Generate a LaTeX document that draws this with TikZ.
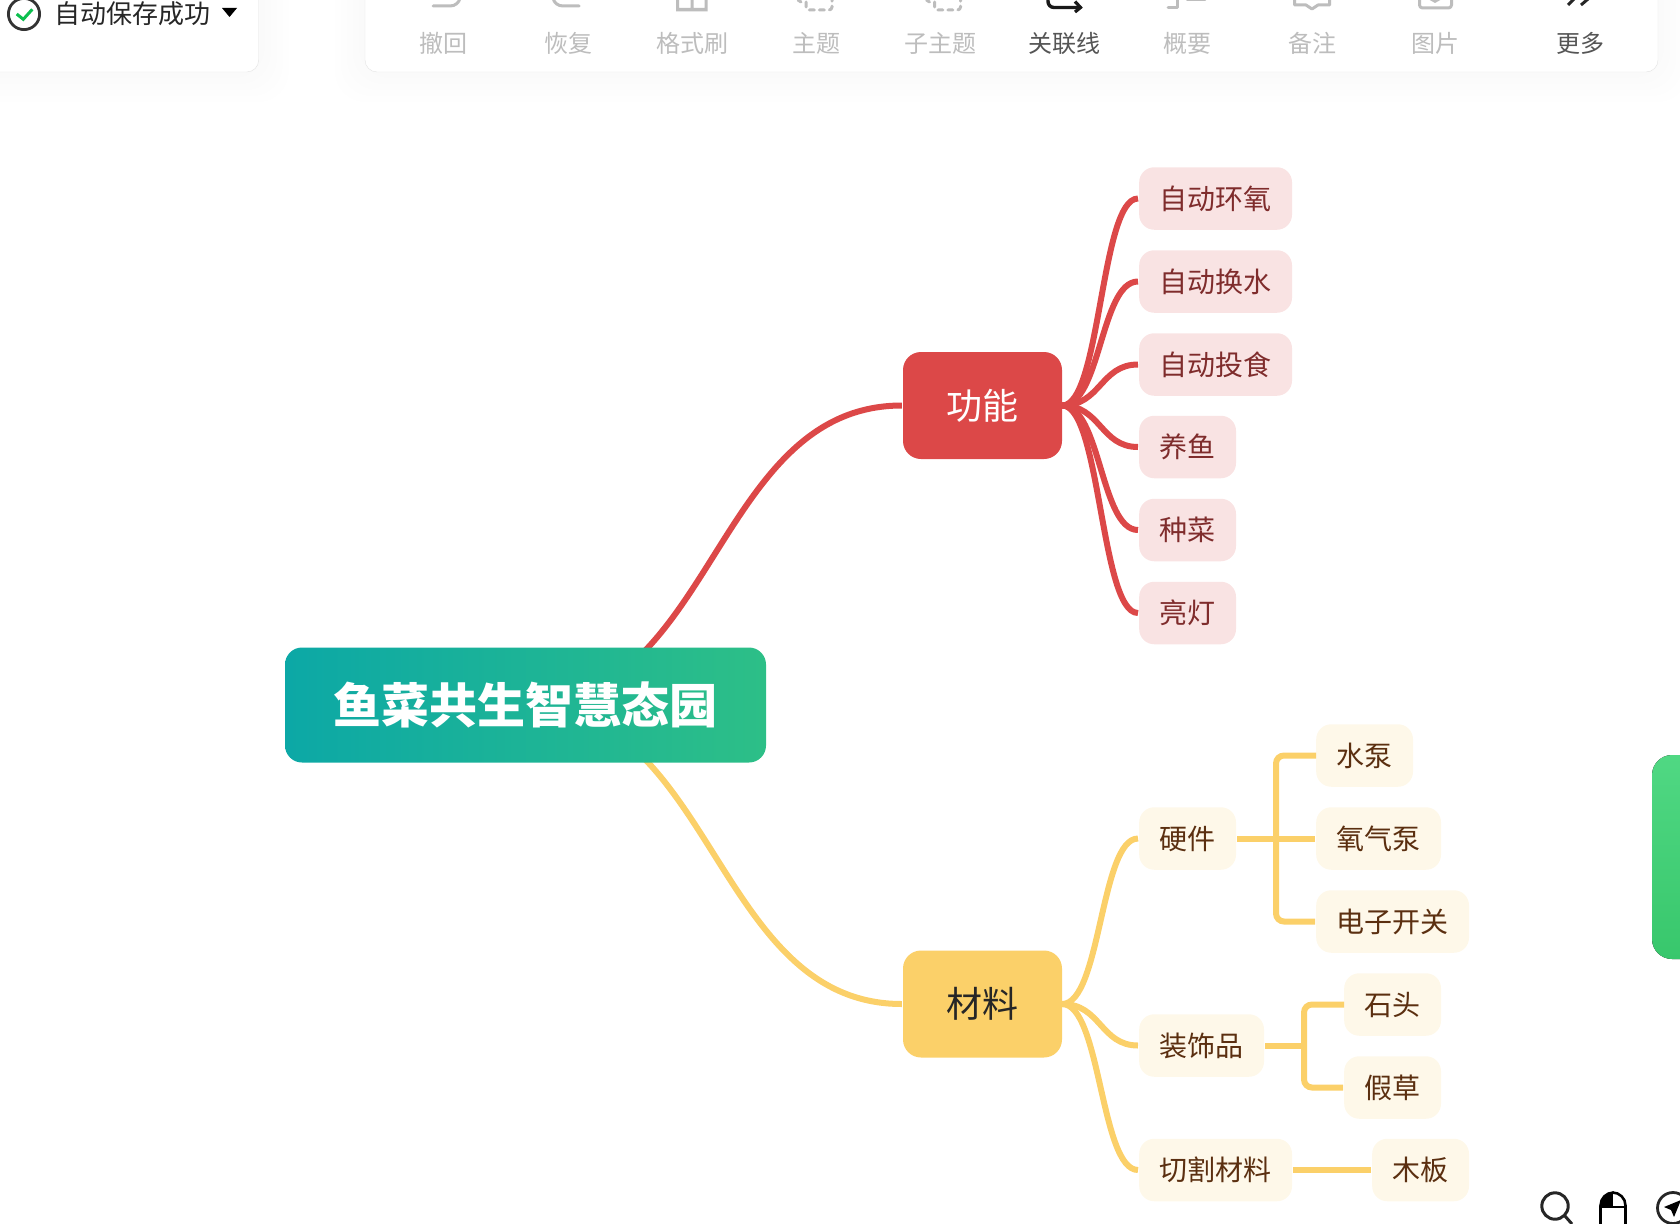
\documentclass[tikz,border=0pt]{standalone}
\usepackage{fontspec}
\setmainfont{Noto Sans CJK SC}
\usetikzlibrary{backgrounds}
\definecolor{red-main}{HTML}{DC4848}
\definecolor{red-soft}{HTML}{F9E3E3}
\definecolor{red-text}{HTML}{7F2C2C}
\definecolor{gold-main}{HTML}{FBD069}
\definecolor{gold-soft}{HTML}{FEF8E9}
\definecolor{gold-text}{HTML}{5B2F10}
\definecolor{tool-off}{HTML}{BDBDBD}
\definecolor{tool-on}{HTML}{555555}
\definecolor{teal-left}{HTML}{0CA8A6}
\definecolor{teal-right}{HTML}{2DBF87}
\tikzset{
  box/.style={rectangle, rounded corners=#1, inner sep=0pt},
  root-box/.style={box=17pt, minimum width=481pt, minimum height=115pt, left color=teal-left, right color=teal-right,
    text=white, font=\fontsize{48}{56}\selectfont\bfseries, text height=42.2pt, text depth=5.8pt},
  branch-box/.style={box=18pt, minimum width=159pt, minimum height=107pt, font=\fontsize{36}{42}\selectfont,
    text height=31.7pt, text depth=4.3pt},
  leaf/.style={box=15pt, anchor=west, inner xsep=20.4pt, minimum height=62.5pt, font=\fontsize{28}{34}\selectfont,
    text height=24.6pt, text depth=3.4pt},
  red-leaf/.style={leaf, fill=red-soft, text=red-text},
  gold-leaf/.style={leaf, fill=gold-soft, text=gold-text},
  red-link/.style={draw=red-main, line width=6pt, shorten >=1pt},
  gold-link/.style={draw=gold-main, line width=6pt, shorten >=1pt},
  tool-label/.style={inner sep=0pt, font=\fontsize{24}{28}\selectfont, text height=21.1pt, text depth=2.9pt},
  tool-stroke/.style={draw=tool-off, line width=3pt, line cap=round, line join=round},
  panel/.style={draw=black!11, fill=white, rounded corners=12pt},
}
\begin{document}
\begin{tikzpicture}[x=1pt, y=-1pt]
\useasboundingbox (0,0) rectangle (1680,1223);
% central topic
\node[root-box] (root) at (525.5,705) {鱼菜共生智慧态园};
\node[branch-box, fill=red-main, text=white] (func) at (982.5,405.5) {功能};
\node[branch-box, fill=gold-main, text=black!85] (mat) at (982.5,1004) {材料};
% function leaves
\node[red-leaf] (func-a) at (1139,198.5) {自动环氧};
\node[red-leaf] (func-b) at (1139,281.5) {自动换水};
\node[red-leaf] (func-c) at (1139,364.5) {自动投食};
\node[red-leaf] (func-d) at (1139,447) {养鱼};
\node[red-leaf] (func-e) at (1139,530) {种菜};
\node[red-leaf] (func-f) at (1139,613) {亮灯};
% material leaves
\node[gold-leaf] (hard) at (1139,838.5) {硬件};
\node[gold-leaf] (deco) at (1139,1045.5) {装饰品};
\node[gold-leaf] (cut) at (1139,1170) {切割材料};
\node[gold-leaf] (hard-a) at (1316,755.5) {水泵};
\node[gold-leaf] (hard-b) at (1316,838.5) {氧气泵};
\node[gold-leaf] (hard-c) at (1316,921.5) {电子开关};
\node[gold-leaf] (deco-a) at (1344,1004.5) {石头};
\node[gold-leaf] (deco-b) at (1344,1087.5) {假草};
\node[gold-leaf] (cut-a) at (1372,1170) {木板};
\begin{scope}[on background layer]
\draw[red-link] (root.center) .. controls +(188.5,0) and +(-188.5,0) .. (func.west);
\draw[gold-link] (root.center) .. controls +(188.5,0) and +(-188.5,0) .. (mat.west);
\foreach \kid in {func-a,func-b,func-c,func-d,func-e,func-f} {
  \draw[red-link] (func.east) .. controls +(38.5,0) and +(-38.5,0) .. (\kid.west);
}
\foreach \kid in {hard,deco,cut} {
  \draw[gold-link] (mat.east) .. controls +(38.5,0) and +(-38.5,0) .. (\kid.west);
}
\end{scope}
% brackets
\draw[gold-link, shorten <=1pt] (hard.east) -- (hard-b.west);
\draw[gold-link, rounded corners=8pt] (hard-a.west) -- ++(-40,0) |- (hard-c.west);
\draw[gold-link, shorten >=0pt, shorten <=1pt] (deco.east) -- ++(40,0);
\draw[gold-link, rounded corners=8pt] (deco-a.west) -- ++(-40,0) |- (deco-b.west);
\draw[gold-link, shorten <=1pt] (cut.east) -- (cut-a.west);
% toolbar panels
\foreach \grow in {6,12,...,30} {
  \fill[black, opacity=.004, rounded corners=30pt] (-60,-60) rectangle (258.7+\grow,72+\grow);
  \fill[black, opacity=.004, rounded corners=30pt] (365-\grow,-60) rectangle (1658+\grow,72+\grow);
}
\draw[panel] (-40,-40) rectangle (258.7,72);
\draw[panel] (365,-40) rectangle (1658,72);
% save status
\draw[draw=black!80, line width=2.8pt] (24,14) circle (15.6);
\draw[draw={rgb,255:red,12;green,191;blue,78}, line width=3pt] (16.7,14) -- (23.3,19.3) -- (32.3,9.3);
\node[inner sep=0pt, font=\fontsize{26}{30}\selectfont, text=black!85, text height=22.9pt, text depth=3.1pt] (status) at (132.5,14) {自动保存成功};
\fill[black] (222,8) -- (237,8) -- (229.5,17) -- cycle;
% tool labels
\node[tool-label, text=tool-off] (undo) at (443.7,43) {撤回};
\node[tool-label, text=tool-off] (redo) at (568,43) {恢复};
\node[tool-label, text=tool-off] (brush) at (692,43) {格式刷};
\node[tool-label, text=tool-off] (topic) at (816,43) {主题};
\node[tool-label, text=tool-off] (subtopic) at (940,43) {子主题};
\node[tool-label, text=tool-on] (relation) at (1064,43) {关联线};
\node[tool-label, text=tool-off] (summary) at (1187.6,43) {概要};
\node[tool-label, text=tool-off] (note) at (1312,43) {备注};
\node[tool-label, text=tool-off] (image) at (1435.6,43) {图片};
\node[tool-label, text=tool-on] (more) at (1580,43) {更多};
% tool icons, cut by the page edge
\draw[tool-stroke] (433,6) -- (450,6) .. controls (455,6) and (459,3) .. (460,-2);
\draw[tool-stroke] (553,-2) .. controls (554,3) and (558,6) .. (563,6) -- (579,6);
\fill[tool-off] (676,-2) rectangle (679,11.5) (690.5,-2) rectangle (693.5,11.5) (704.5,-2) rectangle (707.5,11.5) (676,8) rectangle (707.5,11.5);
\foreach \shift in {0,128.5} {
  \begin{scope}[xshift=\shift pt]
  \draw[tool-stroke, dash pattern=on 5pt off 5pt, rounded corners=3pt] (806,2) -- (806,10) -- (832,10) -- (832,-3);
  \draw[tool-stroke] (798,0) -- (801,2);
  \end{scope}
}
\draw[draw=black!90, line width=3.4pt, rounded corners=6pt] (1048,-3) -- (1048,7.5) -- (1079,7.5);
\draw[draw=black!90, line width=3.2pt] (1075,1.5) -- (1080.5,7.5) -- (1075,12);
\draw[tool-stroke] (1177,-2) -- (1177,8) -- (1168,8) (1187,0) -- (1205,0);
\draw[tool-stroke] (1294.5,-3) -- (1294.5,5) -- (1306,5) -- (1312,9) -- (1318,5) -- (1329.5,5) -- (1329.5,-3);
\draw[tool-stroke, rounded corners=3pt] (1419.5,-5) rectangle (1451.5,8);
\fill[tool-off] (1428,-1) -- (1435,3) -- (1442,-1) -- cycle;
\draw[draw=black!85, line width=3pt] (1568,5) -- (1574,-1) (1581,5) -- (1588,-1);
% side tab
\fill[top color={rgb,255:red,80;green,216;blue,131}, bottom color={rgb,255:red,56;green,199;blue,108}, rounded corners=20pt] (1652,755) rectangle (1720,959);
% view controls
\draw[draw=black!85, line width=3pt] (1555,1206) circle (13.2);
\draw[draw=black!85, line width=3pt] (1564.5,1215.5) -- (1572,1224);
\begin{scope}
\clip[rounded corners=13pt] (1600.5,1192.5) rectangle (1625.5,1240);
\fill[black] (1600,1190) rectangle (1613,1207);
\end{scope}
\draw[draw=black, line width=2.6pt, rounded corners=13pt] (1600.5,1192.5) rectangle (1625.5,1240);
\draw[draw=black, line width=2.6pt] (1600.5,1207) -- (1625.5,1207);
\draw[draw=black!85, line width=2.8pt] (1673,1208) circle (15.5);
\fill[black] (1681,1200) -- (1664,1207) -- (1671,1210) -- (1674,1217) -- cycle;
\end{tikzpicture}
\end{document}
